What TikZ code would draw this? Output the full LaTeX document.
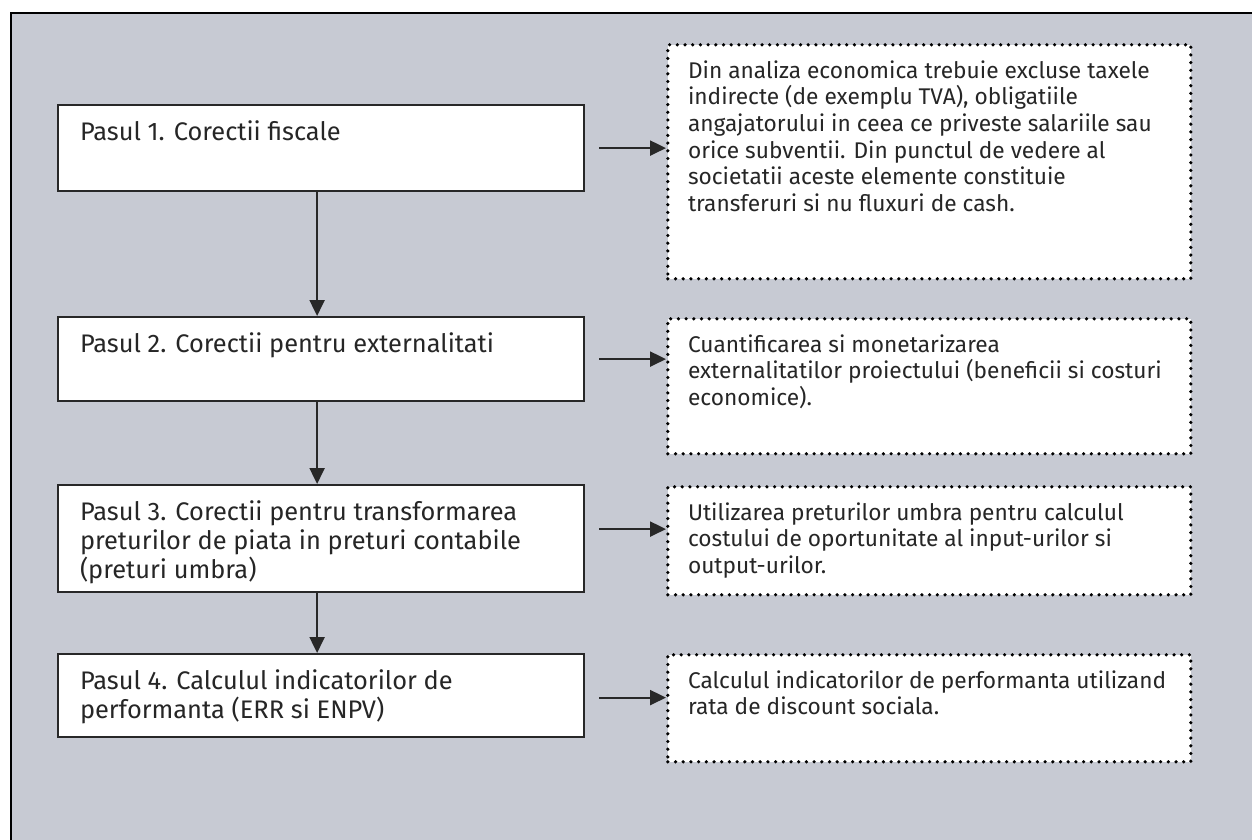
\documentclass[tikz,border=0pt]{standalone}
\usepackage{fontspec}
\setmainfont{Fira Sans}
\usetikzlibrary{arrows.meta}
\definecolor{panelgray}{RGB}{199,202,211}
\definecolor{inkgray}{RGB}{40,40,40}

\begin{document}
\begin{tikzpicture}[x=0.5pt, y=-0.5pt,
    stepbox/.style={draw=inkgray, line width=1.1pt, fill=white, anchor=north west, inner sep=0pt, minimum width=263pt},
    notebox/.style={draw=black, line width=1.8pt, dash pattern=on 0pt off 3.85pt, line cap=round, fill=white, anchor=north west, inner sep=0pt, minimum width=261.5pt},
    steptext/.style={anchor=north west, align=left, inner xsep=11.3pt, inner ysep=8.1pt, font=\fontsize{12.7}{14.6}\selectfont, text=black!85},
    notetext/.style={anchor=north west, align=left, inner xsep=10.8pt, inner ysep=8.6pt, font=\fontsize{11.35}{13.3}\selectfont, text=black!85},
    flow/.style={-{Triangle[length=8pt, width=7.5pt]}, draw=inkgray, line width=1.1pt}]

    % Page size and the grey panel with its frame
    \useasboundingbox (0,0) rectangle (1252,840);
    \fill[panelgray] (11,13) rectangle (1252,840);
    \draw[line width=1.1pt] (11,840) -- (11,13) -- (1252,13);

    % Left column: the four steps
    \node[stepbox, minimum height=43pt] (s1) at (57,104) {};
    \node[steptext] (t1) at (s1.north west) {Pasul 1. Corectii fiscale};

    \node[stepbox, minimum height=42pt] (s2) at (57,316) {};
    \node[steptext] (t2) at (s2.north west) {Pasul 2. Corectii pentru externalitati};

    \node[stepbox, minimum height=53.5pt] (s3) at (57,484) {};
    \node[steptext] (t3) at (s3.north west) {Pasul 3. Corectii pentru transformarea\\
        preturilor de piata in preturi contabile\\
        (preturi umbra)};

    \node[stepbox, minimum height=41.5pt] (s4) at (57,653) {};
    \node[steptext] (t4) at (s4.north west) {Pasul 4. Calculul indicatorilor de\\
        performanta (ERR si ENPV)};

    % Right column: dotted explanation boxes
    \node[notebox, minimum height=117pt] (d1) at (666,43) {};
    \node[notetext] (u1) at (d1.north west) {Din analiza economica trebuie excluse taxele\\
        indirecte (de exemplu TVA), obligatiile\\
        angajatorului in ceea ce priveste salariile sau\\
        orice subventii. Din punctul de vedere al\\
        societatii aceste elemente constituie\\
        transferuri si nu fluxuri de cash.};

    \node[notebox, minimum height=67.5pt] (d2) at (666,317) {};
    \node[notetext] (u2) at (d2.north west) {Cuantificarea si monetarizarea\\
        externalitatilor proiectului (beneficii si costuri\\
        economice).};

    \node[notebox, minimum height=54pt] (d3) at (666,485) {};
    \node[notetext] (u3) at (d3.north west) {Utilizarea preturilor umbra pentru calculul\\
        costului de oportunitate al input-urilor si\\
        output-urilor.};

    \node[notebox, minimum height=53.5pt] (d4) at (666,653) {};
    \node[notetext] (u4) at (d4.north west) {Calculul indicatorilor de performanta utilizand\\
        rata de discount sociala.};

    % Downward arrows between the steps
    \draw[flow] ([xshift=-2pt]s1.south) -- ([xshift=-2pt]s2.north);
    \draw[flow] ([xshift=-2pt]s2.south) -- ([xshift=-2pt]s3.north);
    \draw[flow] ([xshift=-2pt]s3.south) -- ([xshift=-2pt]s4.north);

    % Arrows towards the dotted boxes
    \coordinate (a1) at ([xshift=7pt]s1.east);
    \coordinate (a2) at ([xshift=7pt]s2.east);
    \coordinate (a3) at ([xshift=7pt, yshift=4.75pt]s3.east);
    \coordinate (a4) at ([xshift=7pt, yshift=-1pt]s4.east);
    \draw[flow] (a1) -- (a1 -| d1.west);
    \draw[flow] (a2) -- (a2 -| d2.west);
    \draw[flow] (a3) -- (a3 -| d3.west);
    \draw[flow] (a4) -- (a4 -| d4.west);

\end{tikzpicture}
\end{document}
